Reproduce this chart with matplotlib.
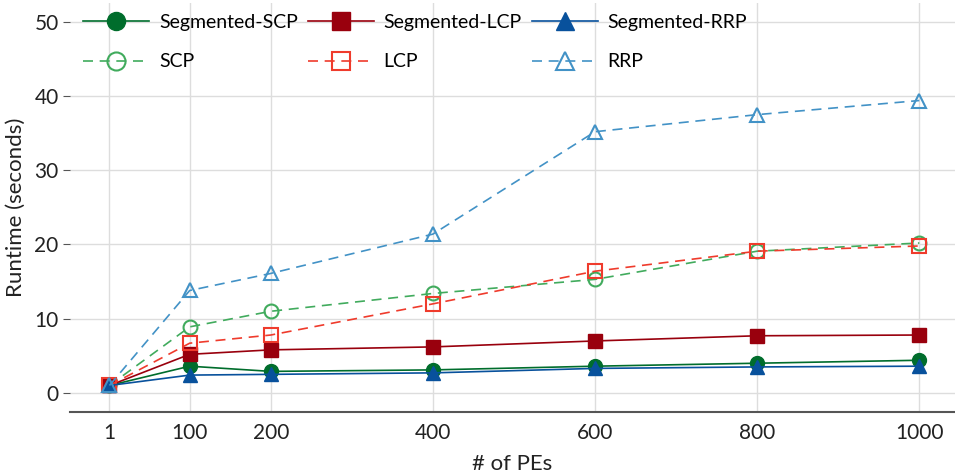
import matplotlib
matplotlib.use("Agg")
import matplotlib.pyplot as plt

plt.rcParams["font.family"] = ["Lato", "DejaVu Sans"]

# Runtime per number of processing elements
pes = [1, 100, 200, 400, 600, 800, 1000]
seg_scp = [1.0, 3.6, 2.9, 3.1, 3.6, 4.0, 4.4]
seg_lcp = [1.0, 5.2, 5.8, 6.2, 7.0, 7.7, 7.8]
seg_rrp = [1.0, 2.4, 2.5, 2.7, 3.3, 3.5, 3.6]
scp = [1.0, 8.9, 11.0, 13.4, 15.3, 19.1, 20.2]
lcp = [1.0, 6.7, 7.8, 12.0, 16.4, 19.1, 19.8]
rrp = [1.0, 13.8, 16.1, 21.4, 35.2, 37.5, 39.4]

fig = plt.figure(figsize=(9.55, 4.75), dpi=100)
ax = fig.add_axes([0.073, 0.133, 0.927, 0.86])

ms = 10
ax.plot(pes, seg_scp, "-o", color="#006d2c", lw=1.2, ms=ms, label="Segmented-SCP")
ax.plot(pes, scp, "--o", color="#41ab5d", lw=1.2, ms=ms, mfc="none", mew=1.5,
        dashes=(6, 4), label="SCP")
ax.plot(pes, seg_lcp, "-s", color="#99000d", lw=1.2, ms=ms, label="Segmented-LCP")
ax.plot(pes, lcp, "--s", color="#ef3b2c", lw=1.2, ms=ms, mfc="none", mew=1.5,
        dashes=(6, 4), label="LCP")
ax.plot(pes, seg_rrp, "-^", color="#08519c", lw=1.2, ms=ms, label="Segmented-RRP")
ax.plot(pes, rrp, "--^", color="#4292c6", lw=1.2, ms=ms, mfc="none", mew=1.5,
        dashes=(6, 4), label="RRP")

ax.set_xlim(-48, 1044)
ax.set_ylim(-2.55, 52.5)
ax.set_xticks(pes)
ax.set_xticklabels([str(p) for p in pes])
ax.set_yticks([0, 10, 20, 30, 40, 50])

ax.grid(True, color="#dddddd", lw=1)
ax.set_axisbelow(True)
for s in ["top", "right", "left"]:
    ax.spines[s].set_visible(False)
ax.spines["bottom"].set_color("#555555")
ax.spines["bottom"].set_linewidth(1.5)
ax.tick_params(axis="x", length=0, labelsize=15, pad=8, colors="#222222")
ax.tick_params(axis="y", length=5, labelsize=15, pad=3, colors="#555555",
               labelcolor="#222222")

ax.set_xlabel("# of PEs", fontsize=16, color="#222222", labelpad=8)
ax.set_ylabel("Runtime (seconds)", fontsize=16, color="#222222", labelpad=6)

ax.legend(ncol=3, loc="upper left", bbox_to_anchor=(0.0, 1.007), frameon=False,
          fontsize=14, handlelength=3.4, markerscale=1.3, columnspacing=0.5,
          handletextpad=0.5, labelspacing=1.15, borderaxespad=0.3)

fig.savefig("out.png", dpi=100)
